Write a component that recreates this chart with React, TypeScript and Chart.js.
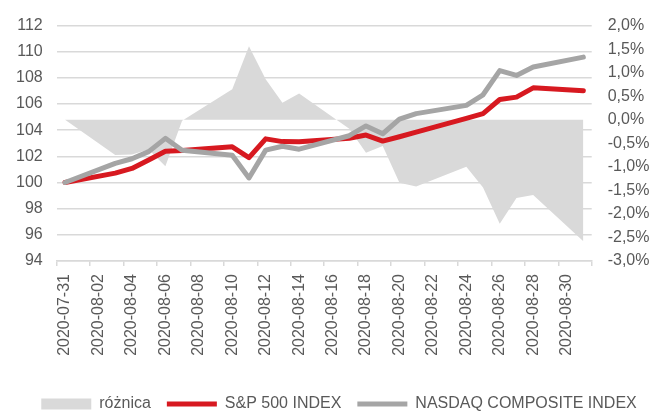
import React, { useEffect, useRef } from 'react';
import { Chart, registerables } from 'chart.js';

Chart.register(...registerables);

// Daily categories (weekends have no data and are spanned)
const dates = [
  '2020-07-31', '2020-08-01', '2020-08-02', '2020-08-03', '2020-08-04', '2020-08-05', '2020-08-06', '2020-08-07',
  '2020-08-08', '2020-08-09', '2020-08-10', '2020-08-11', '2020-08-12', '2020-08-13', '2020-08-14', '2020-08-15',
  '2020-08-16', '2020-08-17', '2020-08-18', '2020-08-19', '2020-08-20', '2020-08-21', '2020-08-22', '2020-08-23',
  '2020-08-24', '2020-08-25', '2020-08-26', '2020-08-27', '2020-08-28', '2020-08-29', '2020-08-30', '2020-08-31',
];

const spx: (number | null)[] = [
  100.0, null, null, 100.72, 101.08, 101.73, 102.39, 102.45,
  null, null, 102.73, 101.91, 103.34, 103.13, 103.11, null,
  null, 103.39, 103.63, 103.17, 103.5, 103.85, null, null,
  104.9, 105.27, 106.35, 106.53, 107.24, null, null, 107.01,
];

const ndx: (number | null)[] = [
  100.0, null, null, 101.47, 101.82, 102.36, 103.38, 102.47,
  null, null, 102.08, 100.35, 102.48, 102.77, 102.55, null,
  null, 103.58, 104.33, 103.73, 104.84, 105.27, null, null,
  105.9, 106.71, 108.56, 108.19, 108.84, null, null, 109.59,
];

// różnica, in percentage points (right axis)
const diff: (number | null)[] = [
  0.0, null, null, -0.75, -0.74, -0.63, -0.99, -0.02,
  null, null, 0.65, 1.56, 0.86, 0.36, 0.56, null,
  null, -0.19, -0.7, -0.56, -1.34, -1.42, null, null,
  -1.0, -1.44, -2.21, -1.66, -1.6, null, null, -2.58,
];

const seriesNames = ['różnica', 'S&P 500 INDEX', 'NASDAQ COMPOSITE INDEX'];
const leftAxis = { min: 94, max: 112, step: 2 };
const rightAxis = { min: -3, max: 2, step: 0.5 };

const TEXT = '#595959';
const GRID = '#d9d9d9';

const shiftLegend = {
  id: 'shiftLegend',
  afterLayout(chart: any) {
    if (chart.legend) chart.legend.left += 20;
  },
};

export default function App() {
  const ref = useRef<HTMLCanvasElement | null>(null);

  useEffect(() => {
    if (!ref.current) return;
    Chart.defaults.font.family = "'Liberation Sans', Arial, sans-serif";
    Chart.defaults.font.size = 16;
    Chart.defaults.color = TEXT;

    const chart = new Chart(ref.current, {
      type: 'line',
      plugins: [shiftLegend],
      data: {
        labels: dates,
        datasets: [
          {
            label: seriesNames[0],
            data: diff,
            yAxisID: 'y1',
            fill: 'origin',
            backgroundColor: '#d9d9d9',
            borderColor: '#d9d9d9',
            borderWidth: 0,
            pointRadius: 0,
            pointStyle: 'rect',
            spanGaps: true,
            tension: 0,
            order: 3,
          },
          {
            label: seriesNames[1],
            data: spx,
            yAxisID: 'y',
            fill: false,
            borderColor: '#d71920',
            backgroundColor: '#d71920',
            borderWidth: 5,
            borderCapStyle: 'round',
            borderJoinStyle: 'round',
            pointRadius: 0,
            pointStyle: 'line',
            spanGaps: true,
            tension: 0,
            order: 2,
          },
          {
            label: seriesNames[2],
            data: ndx,
            yAxisID: 'y',
            fill: false,
            borderColor: '#a5a5a5',
            backgroundColor: '#a5a5a5',
            borderWidth: 5,
            borderCapStyle: 'round',
            borderJoinStyle: 'round',
            pointRadius: 0,
            pointStyle: 'line',
            spanGaps: true,
            tension: 0,
            order: 1,
          },
        ],
      },
      options: {
        responsive: false,
        animation: false,
        events: [],
        layout: { padding: { left: 0, right: 0, top: 20, bottom: -10 } },
        plugins: {
          tooltip: { enabled: false },
          legend: {
            position: 'bottom',
            labels: {
              usePointStyle: true,
              pointStyleWidth: 50,
              boxHeight: 11,
              padding: 16,
              color: TEXT,
              font: { size: 16 },
              sort: (a: any, b: any) => a.datasetIndex - b.datasetIndex,
            },
          },
        },
        scales: {
          x: {
            type: 'category',
            offset: true,
            grid: {
              offset: true,
              drawOnChartArea: false,
              drawTicks: true,
              tickLength: 5,
              lineWidth: 1.5,
              color: (c: any) => (c.index === undefined || c.index % 2 === 0 ? GRID : 'rgba(0,0,0,0)'),
            },
            border: { display: true, color: GRID, width: 1.5 },
            ticks: {
              autoSkip: false,
              minRotation: 90,
              maxRotation: 90,
              padding: 8,
              color: TEXT,
              font: { size: 16 },
              callback: function (this: any, value: any, index: number) {
                return index % 2 === 0 ? this.getLabelForValue(value) : '';
              },
            },
            afterFit: (s: any) => {
              s.height = 119;
            },
          },
          y: {
            position: 'left',
            min: leftAxis.min,
            max: leftAxis.max,
            grid: { color: GRID, lineWidth: 1.5, drawTicks: false },
            border: { display: false },
            ticks: { stepSize: leftAxis.step, padding: 14, color: TEXT, font: { size: 16 } },
            afterFit: (s: any) => {
              s.width = 56.7;
            },
          },
          y1: {
            position: 'right',
            min: rightAxis.min,
            max: rightAxis.max,
            grid: { drawOnChartArea: false, drawTicks: false },
            border: { display: false },
            ticks: {
              stepSize: rightAxis.step,
              padding: 16,
              color: TEXT,
              font: { size: 16 },
              callback: (v: any) => (Math.round(Number(v) * 10) / 10).toFixed(1).replace('.', ',') + '%',
            },
            afterFit: (s: any) => {
              s.width = 66.3;
            },
          },
        },
      },
    });
    return () => chart.destroy();
  }, []);

  return (
    <div style={{ position: 'fixed', left: 0, top: 0, width: 658, height: 412, background: '#fff' }}>
      <canvas ref={ref} width={658} height={412} style={{ display: 'block', width: 658, height: 412 }} />
    </div>
  );
}
